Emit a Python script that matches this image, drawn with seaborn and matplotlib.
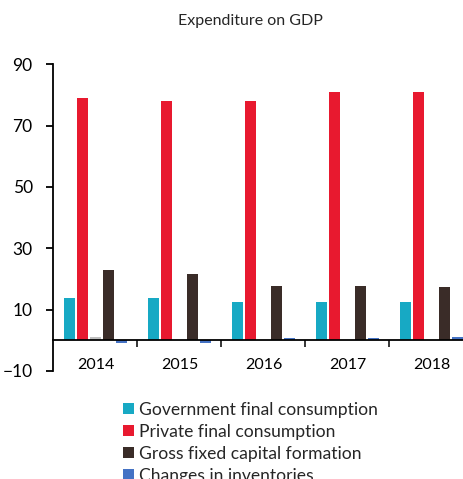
import numpy as np
import pandas as pd
import seaborn as sns
import matplotlib.pyplot as plt

years = ['2014', '2015', '2016', '2017', '2018']
gov_consumption = [13.8, 13.8, 12.6, 12.6, 12.6]
private_consumption = [79.1, 77.9, 77.9, 80.9, 80.9]
other = [1.1, 0.0, 0.0, 0.0, 0.0]
gross_fixed_capital = [22.8, 21.5, 17.7, 17.7, 17.3]
inventories = [-0.9, -0.9, 0.8, 0.8, 1.1]

names = ['Government final consumption', 'Private final consumption', 'Other',
         'Gross fixed capital formation', 'Changes in inventories']
colors = ['#17A9C4', '#E8192F', '#BFBFBF', '#3A2C28', '#4472C4']

df = pd.DataFrame()
for name, vals in zip(names, [gov_consumption, private_consumption, other,
                              gross_fixed_capital, inventories]):
    df = pd.concat([df, pd.DataFrame({'Year': years, 'Component': name, 'Value': vals})])

sns.set_style('white')
plt.rcParams['font.family'] = ['Lato', 'DejaVu Sans']

fig = plt.figure(figsize=(4.64, 4.79), dpi=100)
ax = fig.add_axes([0.1153, 0.2255, 0.8847, 0.6405])

sns.barplot(data=df, x='Year', y='Value', hue='Component', hue_order=names,
            palette=colors, saturation=1, width=0.76, gap=0.14, linewidth=0,
            ax=ax, legend=True)

ax.set_ylim(-10, 90)
ax.set_yticks(np.arange(-10, 91, 20))
ax.set_xlim(-0.5, 4.387)
ax.set_xlabel('')
ax.set_ylabel('')

for s in ['top', 'right']:
    ax.spines[s].set_visible(False)
ax.spines['left'].set_color('black')
ax.spines['left'].set_linewidth(1.3)
ax.spines['bottom'].set_position(('data', 0))
ax.spines['bottom'].set_color('black')
ax.spines['bottom'].set_linewidth(1.3)

ax.tick_params(axis='y', direction='out', length=5, width=1.3, pad=10,
               labelsize=12.5, left=True, colors='black')
ax.tick_params(axis='x', which='major', length=0, pad=13, labelsize=11.5,
               bottom=True, colors='black')
ax.set_xticks([0.5, 1.5, 2.5, 3.5], minor=True)
ax.tick_params(axis='x', which='minor', direction='out', length=5, width=1.3,
               bottom=True)

handles, labels = ax.get_legend_handles_labels()
ax.get_legend().remove()
keep = [i for i, l in enumerate(labels) if l != 'Other']
fig.legend([handles[i] for i in keep], [labels[i] for i in keep],
           loc='upper left', bbox_to_anchor=(0.265, 0.161), frameon=False,
           fontsize=12.6, handlelength=0.62, handleheight=0.62, handletextpad=0.3,
           labelspacing=0.34, borderaxespad=0, borderpad=0)

fig.text(0.539, 0.956, 'Expenditure on GDP', ha='center', va='center', fontsize=11.5)

plt.savefig('out.png', dpi=100)
